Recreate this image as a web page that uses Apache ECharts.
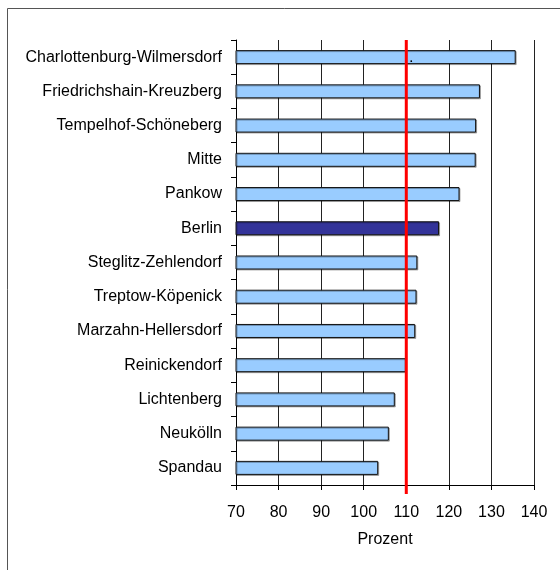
<!DOCTYPE html>
<html>
<head>
<meta charset="utf-8">
<style>
  html, body { margin: 0; padding: 0; background: #fff; }
  #chart { width: 560px; height: 570px; }
</style>
<script src="https://cdn.jsdelivr.net/npm/echarts@6/dist/echarts.min.js"></script>
</head>
<body>
<div id="chart"></div>
<script>
// Berliner Bezirke, Index in Prozent
const districts = [
  'Charlottenburg-Wilmersdorf', 'Friedrichshain-Kreuzberg', 'Tempelhof-Schöneberg',
  'Mitte', 'Pankow', 'Berlin', 'Steglitz-Zehlendorf', 'Treptow-Köpenick',
  'Marzahn-Hellersdorf', 'Reinickendorf', 'Lichtenberg', 'Neukölln', 'Spandau'
];
const values = [135.7, 127.3, 126.4, 126.3, 122.5, 117.7, 112.6, 112.4, 112.1, 109.9, 107.3, 105.9, 103.4];
const highlight = 'Berlin';
const referenceValue = 110;
const xTicks = { min: 70, max: 140, interval: 10 };

const chart = echarts.init(document.getElementById('chart'), null, { renderer: 'canvas' });
const font = 'Arial, "Liberation Sans", sans-serif';
const fontSize = 16;

chart.setOption({
  animation: false,
  grid: { left: 236, right: 26, top: 40, bottom: 85, containLabel: false },
  xAxis: {
    type: 'value',
    min: xTicks.min, max: xTicks.max, interval: xTicks.interval,
    name: 'Prozent', nameLocation: 'middle', nameGap: 47,
    nameTextStyle: { fontFamily: font, fontSize: fontSize, color: '#000' },
    axisLine: { show: true, lineStyle: { color: '#000', width: 1 } },
    axisTick: { show: true, length: 5, lineStyle: { color: '#000' } },
    axisLabel: { fontFamily: font, fontSize: fontSize, color: '#000', margin: 20 },
    splitLine: { show: true, lineStyle: { color: '#222', width: 1 } }
  },
  yAxis: {
    type: 'category',
    data: districts,
    inverse: true,
    axisLine: { show: true, lineStyle: { color: '#000', width: 1 } },
    axisTick: { show: true, length: 5, alignWithLabel: false, lineStyle: { color: '#000' } },
    axisLabel: { fontFamily: font, fontSize: fontSize, color: '#000', margin: 14 },
    splitLine: { show: false }
  },
  series: [{
    type: 'bar',
    barWidth: 14,
    data: districts.map((d, i) => ({
      value: values[i],
      itemStyle: { color: d === highlight ? '#333399' : '#99CCFF' }
    })),
    itemStyle: {
      borderColor: '#111',
      borderWidth: 1,
      shadowColor: 'rgba(0,0,0,0.3)',
      shadowOffsetX: 1,
      shadowOffsetY: 1,
      shadowBlur: 0
    }
  }]
});

// Reference line at 110 % (slightly overhanging the axis) and the chart frame
function drawOverlay() {
  const x = chart.convertToPixel({ xAxisIndex: 0 }, referenceValue);
  const dotPos = chart.convertToPixel({ gridIndex: 0 }, [referenceValue + 0.8, districts[0]]);
  const grid = chart.getModel().getComponent('grid', 0).coordinateSystem.getRect();
  chart.setOption({
    graphic: [
      {
        type: 'rect', silent: true, z: 0,
        shape: { x: 7.5, y: 8.5, width: 600, height: 600 },
        style: { fill: 'none', stroke: '#555', lineWidth: 1 }
      },
      {
        type: 'line', silent: true, z: 100,
        shape: { x1: x, y1: grid.y, x2: x, y2: grid.y + grid.height + 9 },
        style: { stroke: '#ff0000', lineWidth: 3 }
      },
      {
        type: 'text', silent: true, z: 101,
        x: dotPos[0], y: dotPos[1] - 4,
        style: { text: '.', font: 'bold 11px ' + font, fill: '#000' }
      }
    ]
  });
}
drawOverlay();
</script>
</body>
</html>
